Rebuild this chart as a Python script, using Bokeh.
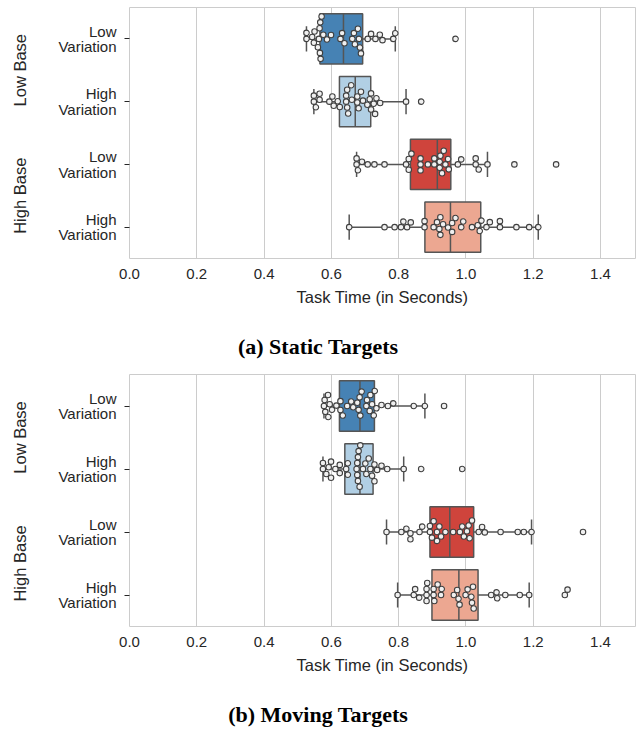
import math
import numpy as np
from bokeh.plotting import figure
from bokeh.models import Range1d, FixedTicker, LinearAxis, Div, NumeralTickFormatter, ColumnDataSource
from bokeh.layouts import column
from bokeh.embed import file_html
from bokeh.resources import INLINE

# ---------------- data ----------------
tick_labels = ["Low\nVariation", "High\nVariation", "Low\nVariation", "High\nVariation"]
group_labels = ["Low Base", "High Base"]
x_ticks = [0.0, 0.2, 0.4, 0.6, 0.8, 1.0, 1.2, 1.4]
box_colors = ["#4682b4", "#b1cfe4", "#cf443c", "#eca791"]
captions = ["(a) Static Targets", "(b) Moving Targets"]
x_label = "Task Time (in Seconds)"

# (a) Static targets: individual task times per condition
static_lowbase_lowvar = [0.526, 0.526, 0.543, 0.548, 0.550, 0.560, 0.563, 0.565, 0.566, 0.567, 0.568,
                         0.571, 0.576, 0.587, 0.599, 0.627, 0.632, 0.639, 0.662, 0.667, 0.670, 0.679,
                         0.682, 0.685, 0.688, 0.708, 0.718, 0.731, 0.744, 0.752, 0.784, 0.790, 0.969]
static_lowbase_highvar = [0.548, 0.548, 0.554, 0.565, 0.565, 0.594, 0.603, 0.607, 0.619, 0.625, 0.644,
                          0.644, 0.647, 0.647, 0.650, 0.659, 0.661, 0.677, 0.677, 0.681, 0.688, 0.694,
                          0.707, 0.714, 0.718, 0.718, 0.726, 0.730, 0.734, 0.745, 0.822, 0.867]
static_highbase_lowvar = [0.675, 0.675, 0.679, 0.691, 0.708, 0.728, 0.758, 0.822, 0.830, 0.830, 0.838,
                          0.865, 0.865, 0.865, 0.887, 0.906, 0.906, 0.922, 0.922, 0.924, 0.929, 0.934,
                          0.939, 0.947, 0.949, 0.976, 0.986, 1.029, 1.029, 1.038, 1.064, 1.144, 1.268]
static_highbase_highvar = [0.653, 0.758, 0.788, 0.807, 0.814, 0.825, 0.836, 0.877, 0.877, 0.904, 0.914,
                           0.921, 0.924, 0.924, 0.932, 0.947, 0.959, 0.959, 0.969, 0.986, 0.992, 1.018,
                           1.035, 1.041, 1.046, 1.061, 1.071, 1.101, 1.101, 1.150, 1.188, 1.215]
static_q1 = [0.566, 0.624, 0.835, 0.878]
static_median = [0.636, 0.671, 0.915, 0.954]
static_q3 = [0.693, 0.717, 0.955, 1.044]
static_whisker_lo = [0.526, 0.548, 0.675, 0.653]
static_whisker_hi = [0.790, 0.822, 1.064, 1.215]

# (b) Moving targets
moving_lowbase_lowvar = [0.578, 0.580, 0.582, 0.590, 0.591, 0.595, 0.602, 0.615, 0.627, 0.627, 0.634,
                         0.647, 0.659, 0.665, 0.677, 0.681, 0.684, 0.686, 0.690, 0.704, 0.706, 0.714,
                         0.716, 0.721, 0.726, 0.729, 0.734, 0.749, 0.768, 0.784, 0.845, 0.878, 0.935]
moving_lowbase_highvar = [0.575, 0.575, 0.585, 0.592, 0.599, 0.599, 0.612, 0.625, 0.625, 0.644, 0.649,
                          0.649, 0.675, 0.677, 0.677, 0.679, 0.679, 0.681, 0.684, 0.686, 0.694, 0.701,
                          0.704, 0.711, 0.716, 0.721, 0.728, 0.728, 0.736, 0.749, 0.766, 0.815, 0.867, 0.989]
moving_highbase_lowvar = [0.764, 0.808, 0.823, 0.835, 0.835, 0.862, 0.870, 0.893, 0.893, 0.899, 0.904,
                          0.914, 0.914, 0.921, 0.926, 0.939, 0.962, 0.982, 0.989, 0.994, 1.003, 1.008,
                          1.011, 1.018, 1.038, 1.048, 1.056, 1.103, 1.154, 1.172, 1.195, 1.348]
moving_highbase_highvar = [0.797, 0.845, 0.849, 0.861, 0.883, 0.883, 0.883, 0.885, 0.904, 0.904, 0.906,
                           0.916, 0.926, 0.928, 0.964, 0.974, 0.978, 0.981, 0.999, 1.005, 1.016, 1.018,
                           1.021, 1.023, 1.075, 1.091, 1.093, 1.117, 1.160, 1.188, 1.294, 1.302]
moving_q1 = [0.624, 0.640, 0.893, 0.899]
moving_median = [0.685, 0.685, 0.952, 0.979]
moving_q3 = [0.728, 0.724, 1.023, 1.036]
moving_whisker_lo = [0.578, 0.575, 0.764, 0.797]
moving_whisker_hi = [0.878, 0.815, 1.195, 1.188]

# ---------------- styling ----------------
FRAME_W = 506
X_END = 1.504
TEXT = "#262626"
EDGE = "#555555"
GRID = "#cccccc"
SANS = "Liberation Sans"
SERIF = "Liberation Serif"
DOT_D = 6.0  # swarm spacing in px


def swarm_offsets(values, px_per_x, px_per_y, d=DOT_D):
    xs = np.asarray(values, dtype=float) * px_per_x
    order = np.argsort(xs, kind="stable")
    placed = []
    offs = np.zeros(len(xs))
    for i in order:
        x = xs[i]
        nb = [(px, py) for px, py in placed if abs(px - x) < d]
        cands = [0.0]
        for px, py in nb:
            dy = math.sqrt(max(d * d - (px - x) ** 2, 0.0))
            cands += [py + dy, py - dy]
        cands.sort(key=lambda c: (abs(c), c))
        chosen = cands[-1]
        for c in cands:
            if all((px - x) ** 2 + (py - c) ** 2 >= d * d - 1e-6 for px, py in nb):
                chosen = c
                break
        placed.append((x, chosen))
        offs[i] = chosen / px_per_y
    return offs


def make_panel(groups, q1, med, q3, wlo, whi, frame_h, border_top):
    p = figure(frame_width=FRAME_W, frame_height=frame_h,
               x_range=Range1d(0, X_END), y_range=Range1d(3.5, -0.5),
               output_backend="svg", toolbar_location=None,
               min_border_left=129, min_border_right=1, min_border_top=border_top,
               min_border_bottom=52, background_fill_color="white", border_fill_color="white",
               outline_line_color=GRID, outline_line_width=1)

    idx = np.arange(4)
    src = ColumnDataSource(dict(y=idx, q1=q1, med=med, q3=q3, wlo=wlo, whi=whi, color=box_colors,
                                lo=idx - 0.4, hi=idx + 0.4, clo=idx - 0.2, chi=idx + 0.2))
    p.segment(x0="wlo", y0="y", x1="q1", y1="y", source=src, line_color=EDGE, line_width=1.5)
    p.segment(x0="q3", y0="y", x1="whi", y1="y", source=src, line_color=EDGE, line_width=1.5)
    p.segment(x0="wlo", y0="clo", x1="wlo", y1="chi", source=src, line_color=EDGE, line_width=1.5)
    p.segment(x0="whi", y0="clo", x1="whi", y1="chi", source=src, line_color=EDGE, line_width=1.5)
    p.hbar(y="y", left="q1", right="q3", height=0.8, source=src, fill_color="color",
           line_color=EDGE, line_width=1.5)
    p.segment(x0="med", y0="lo", x1="med", y1="hi", source=src, line_color=EDGE, line_width=1.5)

    px_per_x = FRAME_W / X_END
    px_per_y = frame_h / 4.0
    xs, ys = [], []
    for k, vals in enumerate(groups):
        offs = swarm_offsets(vals, px_per_x, px_per_y)
        xs += list(vals)
        ys += list(k + offs)
    p.scatter(xs, ys, size=5.5, fill_color="#f0f0f0", line_color="#404040", line_width=1.1)

    # x axis
    xa = p.xaxis[0]
    xa.ticker = FixedTicker(ticks=x_ticks)
    xa.formatter = NumeralTickFormatter(format="0.0")
    xa.axis_line_color = None
    xa.major_tick_line_color = None
    xa.minor_tick_line_color = None
    xa.major_tick_out = 0
    xa.major_tick_in = 0
    xa.major_label_standoff = 10
    xa.major_label_text_font = SANS
    xa.major_label_text_font_size = "15px"
    xa.major_label_text_color = TEXT
    xa.axis_label = x_label
    xa.axis_label_text_font = SANS
    xa.axis_label_text_font_size = "16.5px"
    xa.axis_label_text_font_style = "normal"
    xa.axis_label_text_color = TEXT
    xa.axis_label_standoff = 6

    # y axis (conditions)
    ya = p.yaxis[0]
    ya.ticker = FixedTicker(ticks=[0, 1, 2, 3])
    ya.major_label_overrides = {i: t for i, t in enumerate(tick_labels)}
    ya.axis_line_color = None
    ya.minor_tick_line_color = None
    ya.major_tick_out = 5
    ya.major_tick_in = 0
    ya.major_tick_line_color = TEXT
    ya.major_label_standoff = 8
    ya.major_label_text_font = SANS
    ya.major_label_text_font_size = "15px"
    ya.major_label_text_color = TEXT
    ya.major_label_text_line_height = 0.9

    # group axis
    ga = LinearAxis(ticker=FixedTicker(ticks=[0.5, 2.5]),
                    major_label_overrides={0.5: group_labels[0], 2.5: group_labels[1]},
                    major_label_orientation="parallel")
    ga.axis_line_color = None
    ga.major_tick_line_color = None
    ga.minor_tick_line_color = None
    ga.major_tick_out = 0
    ga.major_tick_in = 0
    ga.major_label_standoff = 27
    ga.major_label_text_font = SANS
    ga.major_label_text_font_size = "16.5px"
    ga.major_label_text_color = TEXT
    p.add_layout(ga, "left")

    p.xgrid.grid_line_color = GRID
    p.xgrid.grid_line_width = 1
    p.ygrid.grid_line_color = None
    return p


def caption_div(text, height, pad):
    return Div(text=f'<div style="padding-top:{pad}px;line-height:16px;">{text}</div>',
               width=636, height=height, margin=0,
               styles={"font-family": SERIF, "font-weight": "bold", "font-size": "22px",
                       "text-align": "center", "color": "#000000", "width": "636px"})


p1 = make_panel([static_lowbase_lowvar, static_lowbase_highvar, static_highbase_lowvar, static_highbase_highvar],
                static_q1, static_median, static_q3, static_whisker_lo, static_whisker_hi, 251, 7)
d1 = caption_div(captions[0], 63, 29)
p2 = make_panel([moving_lowbase_lowvar, moving_lowbase_highvar, moving_highbase_lowvar, moving_highbase_highvar],
                moving_q1, moving_median, moving_q3, moving_whisker_lo, moving_whisker_hi, 252, 1)
d2 = caption_div(captions[1], 52, 29)

layout = column(p1, d1, p2, d2, spacing=0)
open("out.html", "w").write(file_html(layout, INLINE))
